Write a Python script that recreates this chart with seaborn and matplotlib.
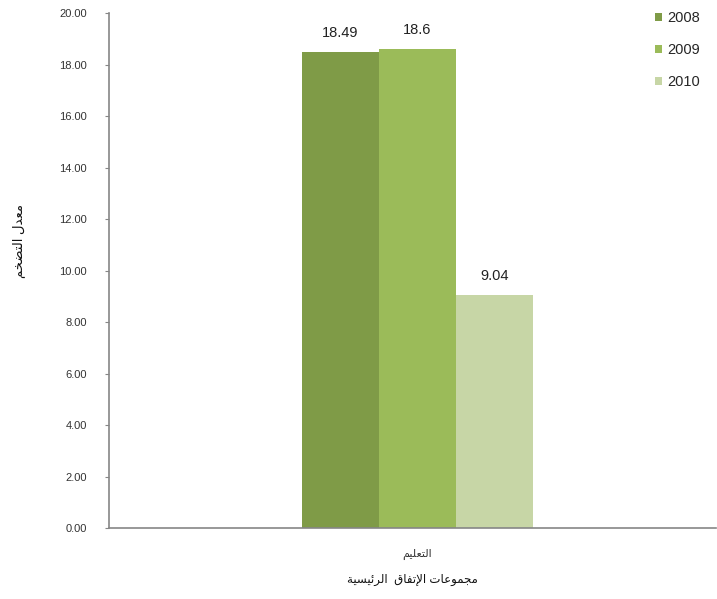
import matplotlib
matplotlib.use('Agg')
import matplotlib.pyplot as plt
import seaborn as sns
import pandas as pd

# Dados
categorias = ['التعليم']
anos = ['2008', '2009', '2010']
valores = [18.49, 18.6, 9.04]
cores = ['#7F9B47', '#9BBB59', '#C7D6A6']
y_ticks = [0, 2, 4, 6, 8, 10, 12, 14, 16, 18, 20]

titulo_y = 'معدل التضخم'
titulo_x = 'مجموعات الإتفاق  الرئيسية'

# formas de apresentação árabes: (isolada, final, inicial, medial)
FORMAS = {
    'ا': ('\uFE8D', '\uFE8E', None, None),
    'إ': ('\uFE87', '\uFE88', None, None),
    'ت': ('\uFE95', '\uFE96', '\uFE97', '\uFE98'),
    'ج': ('\uFE9D', '\uFE9E', '\uFE9F', '\uFEA0'),
    'خ': ('\uFEA5', '\uFEA6', '\uFEA7', '\uFEA8'),
    'د': ('\uFEA9', '\uFEAA', None, None),
    'ر': ('\uFEAD', '\uFEAE', None, None),
    'س': ('\uFEB1', '\uFEB2', '\uFEB3', '\uFEB4'),
    'ض': ('\uFEBD', '\uFEBE', '\uFEBF', '\uFEC0'),
    'ع': ('\uFEC9', '\uFECA', '\uFECB', '\uFECC'),
    'ف': ('\uFED1', '\uFED2', '\uFED3', '\uFED4'),
    'ق': ('\uFED5', '\uFED6', '\uFED7', '\uFED8'),
    'ل': ('\uFEDD', '\uFEDE', '\uFEDF', '\uFEE0'),
    'م': ('\uFEE1', '\uFEE2', '\uFEE3', '\uFEE4'),
    'و': ('\uFEED', '\uFEEE', None, None),
    'ي': ('\uFEF1', '\uFEF2', '\uFEF3', '\uFEF4'),
    'ئ': ('\uFE89', '\uFE8A', '\uFE8B', '\uFE8C'),
    'ة': ('\uFE93', '\uFE94', None, None),
    '\uFEFB': ('\uFEFB', '\uFEFC', None, None),  # لا
    '\uFEF9': ('\uFEF9', '\uFEFA', None, None),  # لإ
}


def arabe(texto):
    texto = texto.replace('لا', '\uFEFB').replace('لإ', '\uFEF9')
    saida = []
    for i, c in enumerate(texto):
        if c not in FORMAS:
            saida.append(c)
            continue
        ant = texto[i - 1] if i > 0 else ''
        prox = texto[i + 1] if i + 1 < len(texto) else ''
        liga_ant = ant in FORMAS and FORMAS[ant][2] is not None
        liga_prox = FORMAS[c][2] is not None and prox in FORMAS
        iso, fin, ini, med = FORMAS[c]
        if liga_ant and liga_prox:
            saida.append(med)
        elif liga_ant:
            saida.append(fin)
        elif liga_prox:
            saida.append(ini)
        else:
            saida.append(iso)
    return ''.join(saida)[::-1]


df = pd.DataFrame({
    'categoria': [arabe(categorias[0])] * len(anos),
    'ano': anos,
    'valor': valores,
})

sns.set_style('white')
plt.rcParams['font.family'] = ['Liberation Sans', 'DejaVu Sans']

fig = plt.figure(figsize=(7.17, 5.99), dpi=100)
ax = fig.add_axes([0.152, 0.1185, 0.847, 0.8595])

sns.barplot(data=df, x='categoria', y='valor', hue='ano', palette=cores,
            width=0.38, saturation=1, linewidth=0, ax=ax, legend=True)

for cont in ax.containers:
    ax.bar_label(cont, labels=[f'{v:g}' for v in cont.datavalues],
                 padding=9, fontsize=10.5, color='#222222')

ax.set_ylim(0, 20)
ax.set_xlim(-0.508, 0.492)
ax.set_yticks(y_ticks)
ax.set_yticklabels([f'{t:.2f}' for t in y_ticks], fontsize=8, color='#333333')
ax.tick_params(axis='y', length=3, color='#868686', left=True, pad=13)
ax.tick_params(axis='x', length=0, pad=15, labelsize=8, labelcolor='#333333')

sns.despine(ax=ax)
for lado in ['left', 'bottom']:
    ax.spines[lado].set_color('#868686')
    ax.spines[lado].set_linewidth(1.2)

ax.set_ylabel(arabe(titulo_y), fontsize=9.5, color='#111111')
ax.yaxis.set_label_coords(-0.138, 0.557)
ax.set_xlabel(arabe(titulo_x), fontsize=8.5, color='#111111', labelpad=10)

ax.legend(loc='upper right', bbox_to_anchor=(0.995, 1.03), frameon=False,
          fontsize=10.5, handlelength=0.45, handleheight=0.45, handletextpad=0.4,
          labelspacing=1.25)

fig.savefig('out.png', dpi=100)
